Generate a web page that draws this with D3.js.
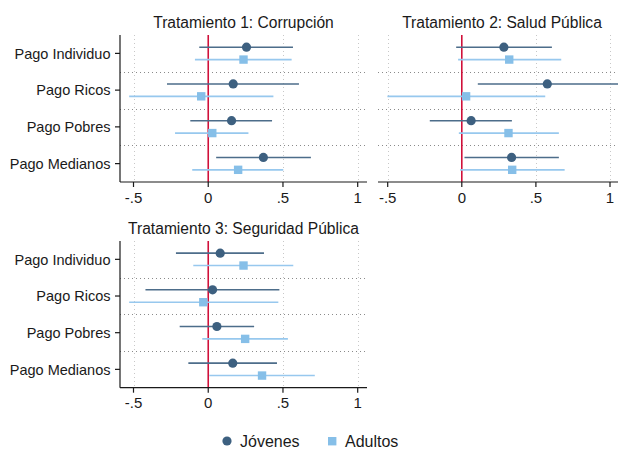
<!DOCTYPE html>
<html>
<head>
<meta charset="utf-8">
<script src="https://cdn.jsdelivr.net/npm/d3@7"></script>
<style>
  html, body { margin: 0; padding: 0; background: #fff; }
  text { font-family: "Liberation Sans", Arial, Helvetica, sans-serif; fill: #1a1a1a; }
</style>
</head>
<body>
<svg id="chart" width="618" height="449"></svg>
<script>
// ---- Data ----
const categories = ["Pago Individuo", "Pago Ricos", "Pago Pobres", "Pago Medianos"];
const panelTitles = ["Tratamiento 1: Corrupción", "Tratamiento 2: Salud Pública", "Tratamiento 3: Seguridad Pública"];
const xTicks = [-0.5, 0, 0.5, 1];
const xTickLabels = ["-.5", "0", ".5", "1"];
const seriesNames = ["Jóvenes", "Adultos"];

// per panel, per category
const jovenesEst = [[0.256, 0.167, 0.156, 0.369], [0.284, 0.577, 0.063, 0.336], [0.080, 0.029, 0.058, 0.164]];
const jovenesLo  = [[-0.060, -0.276, -0.120, 0.053], [-0.038, 0.108, -0.216, 0.018], [-0.216, -0.420, -0.191, -0.133]];
const jovenesHi  = [[0.567, 0.607, 0.427, 0.687], [0.608, 1.100, 0.338, 0.655], [0.373, 0.476, 0.307, 0.460]];
const adultosEst = [[0.236, -0.047, 0.027, 0.200], [0.320, 0.029, 0.315, 0.340], [0.236, -0.033, 0.247, 0.360]];
const adultosLo  = [[-0.089, -0.529, -0.222, -0.107], [-0.025, -0.502, -0.020, -0.011], [-0.100, -0.529, -0.040, 0.007]];
const adultosHi  = [[0.558, 0.436, 0.269, 0.502], [0.671, 0.563, 0.655, 0.694], [0.569, 0.469, 0.533, 0.713]];

// ---- Layout ----
const svg = d3.select("#chart");
const colJ = "#3d6080", colJline = "#4d6d8a";
const colA = "#86bfe8", colAline = "#97c8ee";

const panels = [
  { left: 120, right: 367, top: 35, bottom: 182, xr: [133.5, 357.7], yaxis: true, titleX: 243.5, titleY: 28 },
  { left: 378, right: 627, top: 35, bottom: 182, xr: [387.7, 610.0], yaxis: false, titleX: 502, titleY: 28 },
  { left: 120, right: 367, top: 241, bottom: 387.7, xr: [133.5, 357.7], yaxis: true, titleX: 243.5, titleY: 234 }
];

panels.forEach((p, pi) => {
  const g = svg.append("g");
  const x = d3.scaleLinear().domain([-0.5, 1]).range(p.xr);
  const y = d3.scaleBand().domain(categories).range([p.top, p.bottom]);
  const clipId = "clip" + pi;
  svg.append("clipPath").attr("id", clipId).append("rect")
    .attr("x", p.left).attr("y", p.top).attr("width", p.right - p.left).attr("height", p.bottom - p.top);

  // vertical dotted grid
  g.selectAll(".vg").data(xTicks.filter(t => t !== 0)).join("line")
    .attr("x1", d => Math.round(x(d)) + 0.5).attr("x2", d => Math.round(x(d)) + 0.5)
    .attr("y1", p.top).attr("y2", p.bottom)
    .attr("stroke", "#c8c8c8").attr("stroke-width", 1).attr("stroke-dasharray", "1,3");

  // horizontal separators
  g.selectAll(".hg").data(categories.slice(1)).join("line")
    .attr("x1", p.left).attr("x2", p.right)
    .attr("y1", d => Math.round(y(d)) + 0.5).attr("y2", d => Math.round(y(d)) + 0.5)
    .attr("stroke", "#8a8a8a").attr("stroke-width", 1).attr("stroke-dasharray", "1,3");

  // zero line
  g.append("line")
    .attr("x1", x(0)).attr("x2", x(0)).attr("y1", p.top).attr("y2", p.bottom)
    .attr("stroke", "#d0103a").attr("stroke-width", 1.6);

  const data = categories.map((c, i) => ({
    cat: c,
    j: [jovenesEst[pi][i], jovenesLo[pi][i], jovenesHi[pi][i]],
    a: [adultosEst[pi][i], adultosLo[pi][i], adultosHi[pi][i]]
  }));
  const cy = d => y(d.cat) + y.bandwidth() / 2;
  const off = 6.2;
  const marks = g.append("g").attr("clip-path", `url(#${clipId})`);

  // CI lines
  marks.selectAll(".cij").data(data).join("line")
    .attr("x1", d => x(d.j[1])).attr("x2", d => x(d.j[2]))
    .attr("y1", d => cy(d) - off).attr("y2", d => cy(d) - off)
    .attr("stroke", colJline).attr("stroke-width", 1.6);
  marks.selectAll(".cia").data(data).join("line")
    .attr("x1", d => x(d.a[1])).attr("x2", d => x(d.a[2]))
    .attr("y1", d => cy(d) + off).attr("y2", d => cy(d) + off)
    .attr("stroke", colAline).attr("stroke-width", 1.6);

  // markers
  marks.selectAll(".mj").data(data).join("circle")
    .attr("cx", d => x(d.j[0])).attr("cy", d => cy(d) - off).attr("r", 4.6)
    .attr("fill", colJ);
  marks.selectAll(".ma").data(data).join("rect")
    .attr("x", d => x(d.a[0]) - 4.2).attr("y", d => cy(d) + off - 4.2)
    .attr("width", 8.4).attr("height", 8.4).attr("fill", colA);

  // x axis
  const xa = g.append("g").attr("transform", `translate(0,${p.bottom})`);
  xa.append("line").attr("x1", p.left).attr("x2", p.right).attr("y1", 0).attr("y2", 0)
    .attr("stroke", "#1a1a1a").attr("stroke-width", 1.2);
  xa.selectAll(".xt").data(xTicks).join("line")
    .attr("x1", d => x(d)).attr("x2", d => x(d)).attr("y1", 0).attr("y2", 5)
    .attr("stroke", "#1a1a1a").attr("stroke-width", 1.2);
  xa.selectAll(".xl").data(xTicks).join("text")
    .attr("x", d => x(d)).attr("y", 20.5).attr("text-anchor", "middle")
    .attr("font-size", 15)
    .text((d, i) => xTickLabels[i]);

  // y axis
  if (p.yaxis) {
    g.append("line").attr("x1", p.left).attr("x2", p.left).attr("y1", p.top).attr("y2", p.bottom)
      .attr("stroke", "#1a1a1a").attr("stroke-width", 1.2);
    g.selectAll(".yt").data(categories).join("line")
      .attr("x1", p.left - 5).attr("x2", p.left)
      .attr("y1", d => y(d) + y.bandwidth() / 2).attr("y2", d => y(d) + y.bandwidth() / 2)
      .attr("stroke", "#1a1a1a").attr("stroke-width", 1.2);
    g.selectAll(".yl").data(categories).join("text")
      .attr("x", p.left - 9.5).attr("y", d => y(d) + y.bandwidth() / 2 + 5.2)
      .attr("text-anchor", "end").attr("font-size", 14.5)
      .text(d => d);
  }

  // title
  g.append("text").attr("x", p.titleX).attr("y", p.titleY)
    .attr("text-anchor", "middle").attr("font-size", 15.6)
    .text(panelTitles[pi]);
});

// legend
const lg = svg.append("g");
lg.append("circle").attr("cx", 227).attr("cy", 441).attr("r", 4.6).attr("fill", colJ);
lg.append("text").attr("x", 240).attr("y", 446.5).attr("font-size", 16).text(seriesNames[0]);
lg.append("rect").attr("x", 328).attr("y", 437).attr("width", 8.4).attr("height", 8.4).attr("fill", colA);
lg.append("text").attr("x", 345).attr("y", 446.5).attr("font-size", 16).text(seriesNames[1]);
</script>
</body>
</html>
